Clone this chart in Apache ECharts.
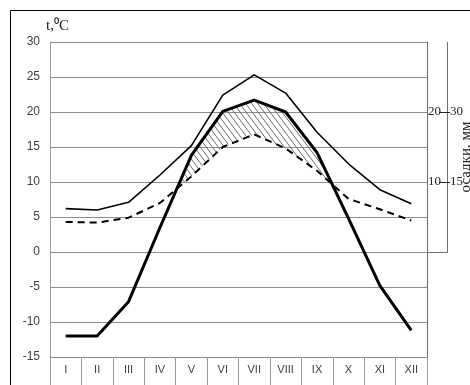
<!DOCTYPE html>
<html>
<head>
<meta charset="utf-8">
<script src="https://cdn.jsdelivr.net/npm/echarts@6/dist/echarts.min.js"></script>
<style>
  html, body { margin: 0; padding: 0; background: #fff; }
  #chart { width: 470px; height: 385px; }
</style>
</head>
<body>
<div id="chart"></div>
<script>
// Months
const months = ['I', 'II', 'III', 'IV', 'V', 'VI', 'VII', 'VIII', 'IX', 'X', 'XI', 'XII'];
// Mean monthly air temperature, °C (thick line)
const temperature = [-12.0, -12.0, -7.1, 3.5, 13.8, 20.1, 21.7, 20.0, 14.2, 4.8, -4.8, -11.2];
// Precipitation curves, plotted on the temperature scale (thin solid and dashed lines)
const precipUpper = [6.2, 6.0, 7.1, 11.0, 15.2, 22.4, 25.3, 22.7, 17.1, 12.6, 8.9, 6.9];
const precipLower = [4.3, 4.2, 4.9, 7.0, 10.8, 15.0, 16.8, 14.8, 11.6, 7.6, 6.1, 4.5];
// Temperature axis
const tMin = -15, tMax = 30, tStep = 5;
// Precipitation scale marks: temperature level -> precipitation label
const precipMarkT = [20, 10];
const precipMarkLeft = ['20', '10'];
const precipMarkRight = ['30', '15'];
const precipScaleTop = 30, precipScaleBottom = 0;

const gridLeft = 50, gridRight = 43, gridTop = 42, gridBottom = 28;
const W = 470;

// diagonal hatch pattern
function makeHatch() {
  const w = 6, h = 8;
  const c = document.createElement('canvas');
  c.width = w; c.height = h;
  const ctx = c.getContext('2d');
  ctx.strokeStyle = '#6a6a6a';
  ctx.lineWidth = 1;
  for (let k = -1; k <= 1; k++) {
    ctx.beginPath();
    ctx.moveTo(k * w, 0);
    ctx.lineTo(k * w + w, h);
    ctx.stroke();
  }
  return c;
}
const hatch = makeHatch();

// fill where the temperature curve lies above the lower precipitation curve
function renderDryPeriod(params, api) {
  if (params.dataIndex !== 0) return;
  const n = temperature.length;
  const d = temperature.map((t, i) => t - precipLower[i]);
  const pT = i => api.coord([i, temperature[i]]);
  const pL = i => api.coord([i, precipLower[i]]);
  const cross = (a, b) => {
    const t = d[a] / (d[a] - d[b]);
    const A = pT(a), B = pT(b);
    return [A[0] + (B[0] - A[0]) * t, A[1] + (B[1] - A[1]) * t];
  };
  const polys = [];
  let top = null, bot = null;
  for (let i = 0; i < n; i++) {
    if (d[i] > 0) {
      if (!top) {
        top = []; bot = [];
        if (i > 0) top.push(cross(i - 1, i));
      }
      top.push(pT(i));
      bot.push(pL(i));
    } else if (top) {
      top.push(cross(i - 1, i));
      polys.push(top.concat(bot.reverse()));
      top = null; bot = null;
    }
  }
  if (top) polys.push(top.concat(bot.reverse()));
  return {
    type: 'group',
    children: polys.map(points => ({
      type: 'polygon',
      shape: { points },
      style: { fill: { image: hatch, repeat: 'repeat' }, stroke: null }
    }))
  };
}

const chart = echarts.init(document.getElementById('chart'), null, { renderer: 'canvas' });

chart.setOption({
  animation: false,
  backgroundColor: '#fff',
  grid: { left: gridLeft, right: gridRight, top: gridTop, bottom: gridBottom },
  xAxis: {
    type: 'category',
    data: months,
    boundaryGap: true,
    axisLine: { show: true, onZero: false, lineStyle: { color: '#8a8a8a', width: 1 } },
    axisTick: { show: true, length: 30, interval: 0, lineStyle: { color: '#9a9a9a', width: 1 } },
    axisLabel: { interval: 0, margin: 7, color: '#404040', fontFamily: 'Liberation Sans Narrow, Liberation Sans', fontSize: 11 },
    splitLine: { show: false }
  },
  yAxis: [{
    type: 'value',
    min: tMin, max: tMax, interval: tStep,
    axisLine: { show: true, lineStyle: { color: '#9a9a9a', width: 1 } },
    axisTick: { show: false },
    axisLabel: { color: '#404040', fontFamily: 'Liberation Sans', fontSize: 12, margin: 10 },
    splitLine: { show: true, lineStyle: { color: '#8c8c8c', width: 1 } }
  }, {
    type: 'value',
    position: 'right',
    min: tMin, max: tMax, interval: tStep,
    axisLine: { show: true, lineStyle: { color: '#6a6a6a', width: 1 } },
    axisTick: { show: false },
    axisLabel: { show: false },
    splitLine: { show: false }
  }],
  series: [{
    type: 'custom',
    renderItem: renderDryPeriod,
    data: [[0, 0]],
    z: 1,
    silent: true
  }, {
    type: 'line',
    data: precipUpper,
    symbol: 'none',
    lineStyle: { color: '#000', width: 1.6 },
    z: 3
  }, {
    type: 'line',
    data: precipLower,
    symbol: 'none',
    lineStyle: { color: '#000', width: 2, type: [7, 5] },
    z: 3
  }, {
    type: 'line',
    data: temperature,
    symbol: 'none',
    lineStyle: { color: '#000', width: 3 },
    z: 4
  }]
});

// frame, unit label and precipitation scale
const xr = W - gridRight;          // right edge of plot
const xs = xr + 20;                // precipitation scale line
const yOf = v => chart.convertToPixel({ yAxisIndex: 0 }, v);
const graphics = [
  { type: 'rect', shape: { x: 10.5, y: 10.5, width: 480, height: 400 },
    style: { fill: null, stroke: '#000', lineWidth: 1 }, z: 10 },
  { type: 'text', x: 46, y: 34, style: { text: 't,⁰C', font: '15px "Liberation Serif"', fill: '#222', textVerticalAlign: 'bottom' }, z: 10 },
  { type: 'polyline', shape: { points: [[xs + 0.5, yOf(precipScaleTop)], [xs + 0.5, yOf(precipScaleBottom) + 0.5], [xr, yOf(precipScaleBottom) + 0.5]] },
    style: { fill: null, stroke: '#707070', lineWidth: 1 }, z: 10 }
];
precipMarkT.forEach((t, i) => {
  const y = yOf(t);
  graphics.push(
    { type: 'text', x: xr + 1, y: y, style: { text: precipMarkLeft[i], font: '13px "Liberation Serif"', fill: '#222', textVerticalAlign: 'middle', textAlign: 'left' }, z: 10 },
    { type: 'line', shape: { x1: xs - 8, y1: Math.round(y) + 0.5, x2: xs + 3, y2: Math.round(y) + 0.5 }, style: { stroke: '#222', lineWidth: 1 }, z: 10 },
    { type: 'text', x: xs + 3, y: y, style: { text: precipMarkRight[i], font: '13px "Liberation Serif"', fill: '#222', textVerticalAlign: 'middle', textAlign: 'left' }, z: 10 }
  );
});
graphics.push({
  type: 'text', x: 466, y: 157, rotation: Math.PI / 2,
  style: { text: 'осадки, мм', font: '15px "Liberation Serif"', fill: '#222', textAlign: 'center', textVerticalAlign: 'middle' }, z: 10
});
chart.setOption({ graphic: graphics });
</script>
</body>
</html>
